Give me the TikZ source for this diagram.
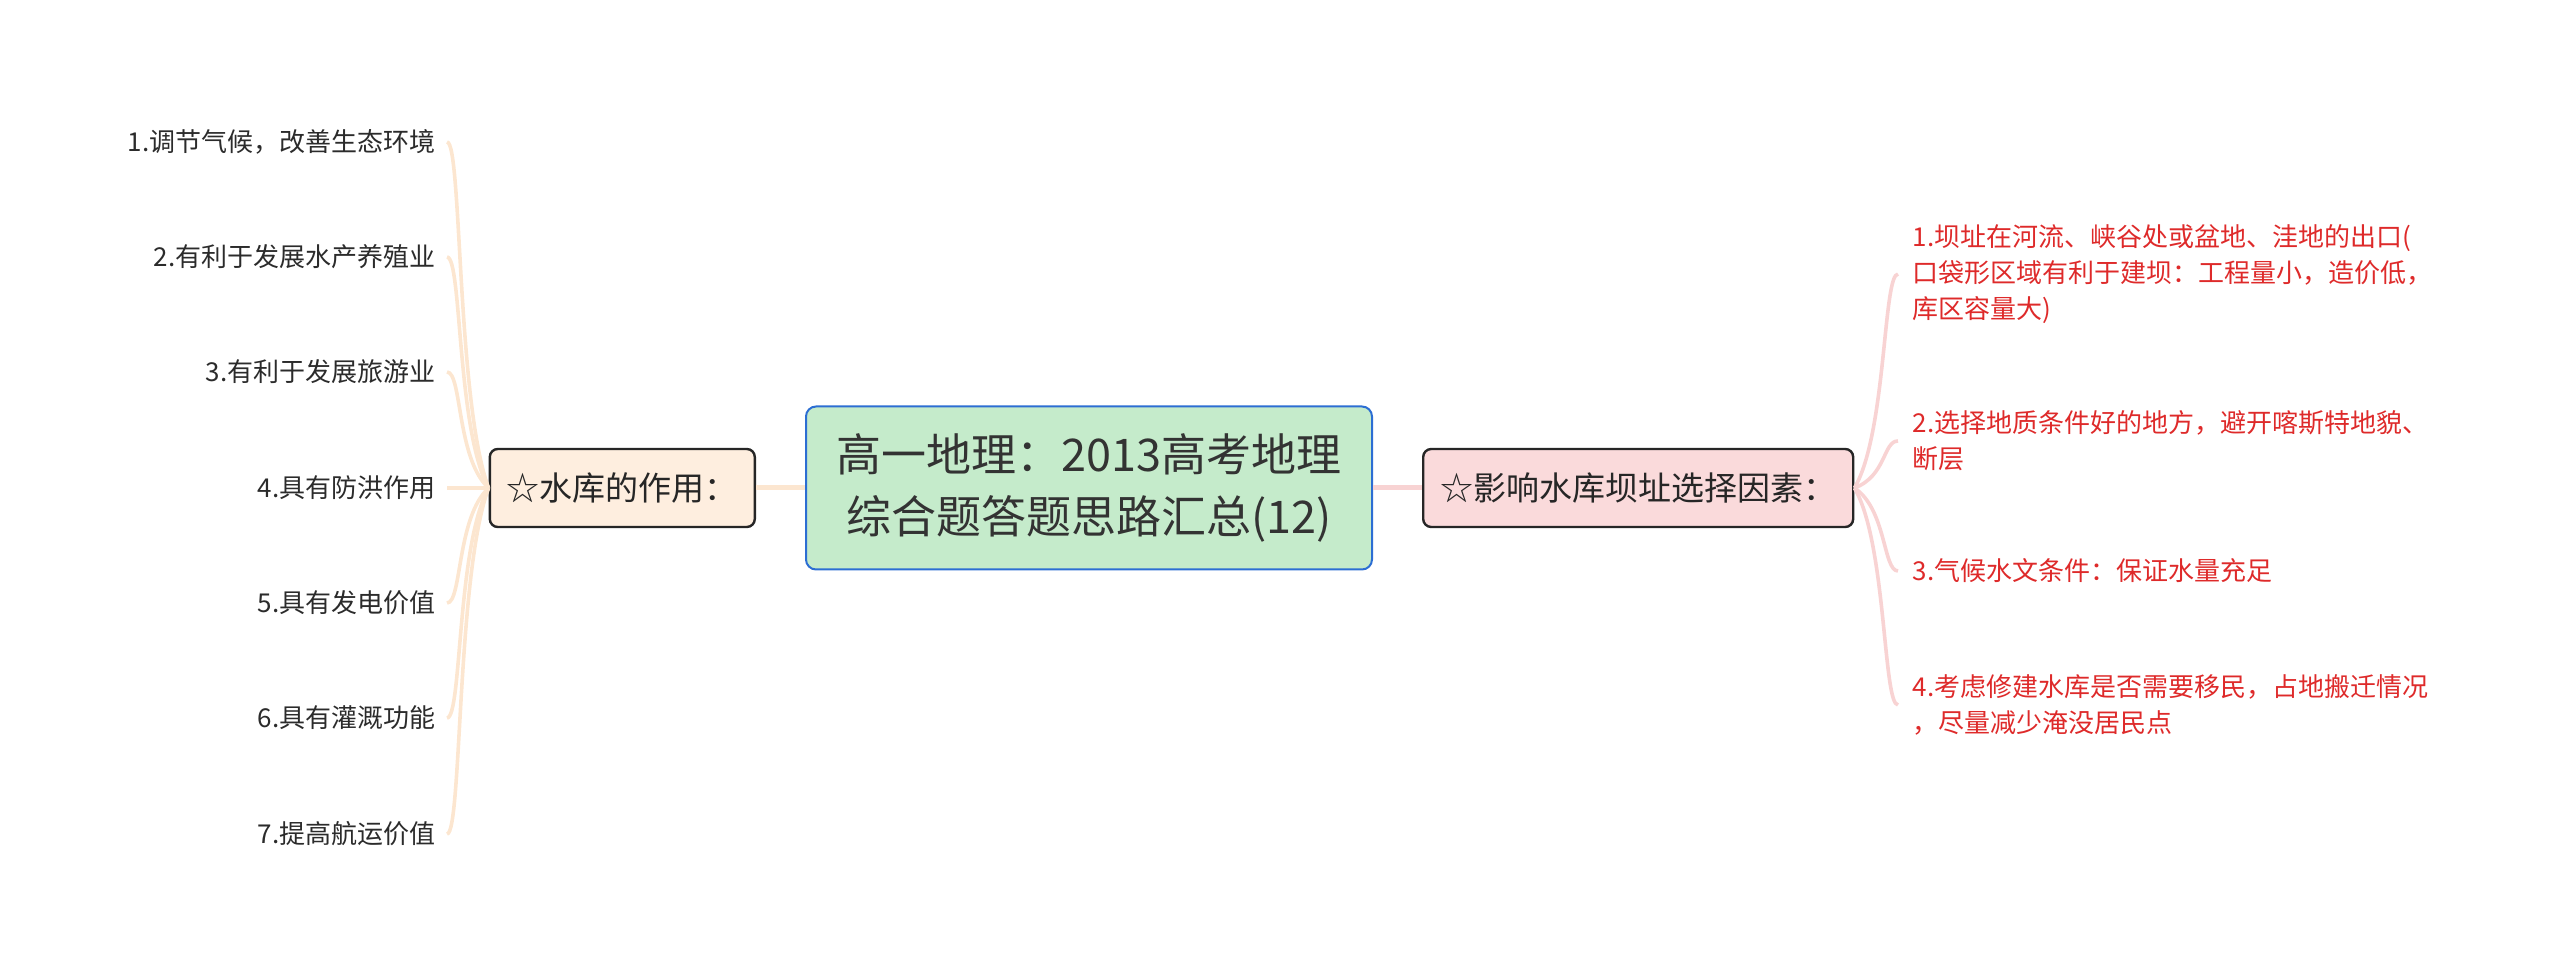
\documentclass[tikz,border=0pt]{standalone}
\usepackage{fontspec}
\setmainfont{Noto Sans CJK SC}
\usetikzlibrary{positioning}
\definecolor{topicfill}{HTML}{C5EBCB}
\definecolor{topicline}{HTML}{2C6ED3}
\definecolor{peachfill}{HTML}{FEEEDF}
\definecolor{peachline}{HTML}{FCE6D0}
\definecolor{pinkfill}{HTML}{FADADB}
\definecolor{pinkline}{HTML}{F8D3D3}
\definecolor{leafred}{HTML}{DE2A2A}
\definecolor{leafgrey}{HTML}{2B2B2B}

\begin{document}
\begin{tikzpicture}[x=0.5pt,y=-0.5pt,semithick,node distance=24.5pt]
  \tikzstyle{centre}=[draw=topicline,line width=1pt,fill=topicfill,rounded corners=5pt,
    minimum width=283pt,minimum height=81.5pt,align=center,text=black!80,
    font=\fontsize{22.5pt}{31pt}\selectfont]
  \tikzstyle{branch}=[draw=black!85,line width=1.2pt,rounded corners=4pt,inner xsep=8.5pt,
    minimum height=39pt,text=black!85,font=\fontsize{16.5pt}{20pt}\selectfont]
  \tikzstyle{leafL}=[anchor=east,inner xsep=5.5pt,text=leafgrey,
    font=\fontsize{13pt}{18pt}\selectfont]
  \tikzstyle{leafR}=[anchor=west,inner xsep=7pt,align=left,text=leafred,
    font=\fontsize{13pt}{18pt}\selectfont]
  \tikzstyle{trunkA}=[draw=peachline,line width=2.5pt]
  \tikzstyle{trunkB}=[draw=pinkline,line width=2.5pt]
  \tikzstyle{twigA}=[draw=peachline,line width=1.8pt]
  \tikzstyle{twigB}=[draw=pinkline,line width=1.8pt]

  \useasboundingbox (0,0) rectangle (2560,977);

  \node[centre]             (T)          at (1089,488) {高一地理：2013高考地理\\综合题答题思路汇总(12)};
  \node[branch,fill=peachfill] (A) [left=of T]  {☆水库的作用：};
  \node[branch,fill=pinkfill]  (B) [right=of T] {☆影响水库坝址选择因素：};

  % left side
  \node[leafL] (A1) at (447,142) {1.调节气候，改善生态环境};
  \node[leafL] (A2) at (447,257) {2.有利于发展水产养殖业};
  \node[leafL] (A3) at (447,372) {3.有利于发展旅游业};
  \node[leafL] (A4) at (447,488) {4.具有防洪作用};
  \node[leafL] (A5) at (447,603) {5.具有发电价值};
  \node[leafL] (A6) at (447,718) {6.具有灌溉功能};
  \node[leafL] (A7) at (447,834) {7.提高航运价值};

  % right side
  \node[leafR] (B1) at (1898,274) {1.坝址在河流、峡谷处或盆地、洼地的出口(\\口袋形区域有利于建坝：工程量小，造价低，\\库区容量大)};
  \node[leafR] (B2) at (1898,441) {2.选择地质条件好的地方，避开喀斯特地貌、\\断层};
  \node[leafR] (B3) at (1898,571) {3.气候水文条件：保证水量充足};
  \node[leafR] (B4) at (1898,705) {4.考虑修建水库是否需要移民，占地搬迁情况\\，尽量减少淹没居民点};

  \path (T) edge[trunkA] (A)
            edge[trunkB] (B);

  \draw[twigA] (A.west) .. controls +(-32,-86) and +(15,0) .. (A1.east);
  \draw[twigA] (A.west) .. controls +(-32,-58) and +(15,0) .. (A2.east);
  \draw[twigA] (A.west) .. controls +(-32,-29) and +(15,0) .. (A3.east);
  \draw[twigA] (A.west) -- (A4.east);
  \draw[twigA] (A.west) .. controls +(-32,29) and +(15,0) .. (A5.east);
  \draw[twigA] (A.west) .. controls +(-32,58) and +(15,0) .. (A6.east);
  \draw[twigA] (A.west) .. controls +(-32,86) and +(15,0) .. (A7.east);

  \draw[twigB] (B.east) .. controls +(32,-54) and +(-15,0) .. (B1.west);
  \draw[twigB] (B.east) .. controls +(32,-12) and +(-15,0) .. (B2.west);
  \draw[twigB] (B.east) .. controls +(32,21) and +(-15,0) .. (B3.west);
  \draw[twigB] (B.east) .. controls +(32,54) and +(-15,0) .. (B4.west);
\end{tikzpicture}
\end{document}
